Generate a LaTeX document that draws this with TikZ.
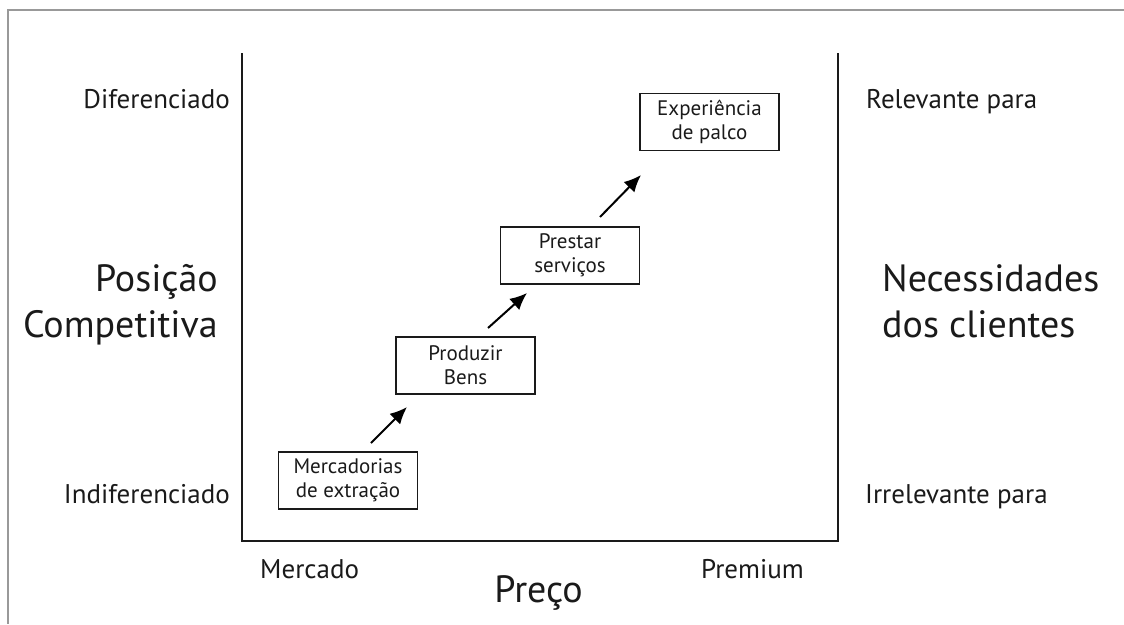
\documentclass[tikz,border=0pt]{standalone}
\usepackage{fontspec}
\setmainfont{PT Sans}
\usetikzlibrary{arrows.meta}
\definecolor{ink}{HTML}{1A1A1A}
\begin{document}
\begin{tikzpicture}[x=1pt,y=-1pt,
  stage/.style={draw=ink, line width=1.8pt, minimum width=139pt, minimum height=57pt,
    inner sep=0pt, align=center, text=ink, font=\fontsize{21}{24}\selectfont},
  lab/.style={font=\fontsize{27}{30}\selectfont, inner sep=0pt, text=ink},
  big/.style={font=\fontsize{38}{46}\selectfont, inner sep=0pt, text=ink},
  arr/.style={-{Latex[length=17pt,width=15pt]}, line width=2pt, draw=black},
  axisline/.style={draw=ink, line width=2.2pt},
  frameline/.style={draw=gray!80, line width=2pt}]
\useasboundingbox (0,0) rectangle (1124,624);
% outer frame (top and left)
\coordinate (f1) at (1124,10);
\coordinate (f2) at (8,10);
\coordinate (f3) at (8,624);
\draw[frameline] (f1) -- (f2) -- (f3);
% axes box
\coordinate (tl) at (242,53);
\coordinate (bl) at (242,541);
\coordinate (br) at (838,541);
\coordinate (tr) at (838,53);
\draw[axisline] (tl) -- (bl) -- (br) -- (tr);
% stages
\node[stage] (m) at (348,480.5) {Mercadorias\\de extração};
\node[stage] (p) at (465.5,365.5) {Produzir\\Bens};
\node[stage] (s) at (570,255.5) {Prestar\\serviços};
\node[stage] (e) at (709.5,122) {Experiência\\de palco};
% arrows
\coordinate (a1s) at (371,443); \coordinate (a1e) at (407,407);
\coordinate (a2s) at (488,328); \coordinate (a2e) at (527,293);
\coordinate (a3s) at (600,217); \coordinate (a3e) at (641,175);
\draw[arr] (a1s) -- (a1e);
\draw[arr] (a2s) -- (a2e);
\draw[arr] (a3s) -- (a3e);
% labels
\node[lab, anchor=base east] (dif) at (230,108) {Diferenciado};
\node[lab, anchor=base east] (ind) at (230,503) {Indiferenciado};
\node[lab, anchor=base west] (rel) at (866,108) {Relevante para};
\node[lab, anchor=base west] (irr) at (865,503) {Irrelevante para};
\node[lab, anchor=base west] (mer) at (260,578) {Mercado};
\node[lab, anchor=base east] (pre) at (804,578) {Premium};
\node[big, anchor=base] (preco) at (538.5,602) {Preço};
\node[big, anchor=east, align=right] (pos) at (218,305) {Posição\\Competitiva};
\node[big, anchor=west, align=left] (nec) at (882,301) {Necessidades\\dos clientes};
\end{tikzpicture}
\end{document}
